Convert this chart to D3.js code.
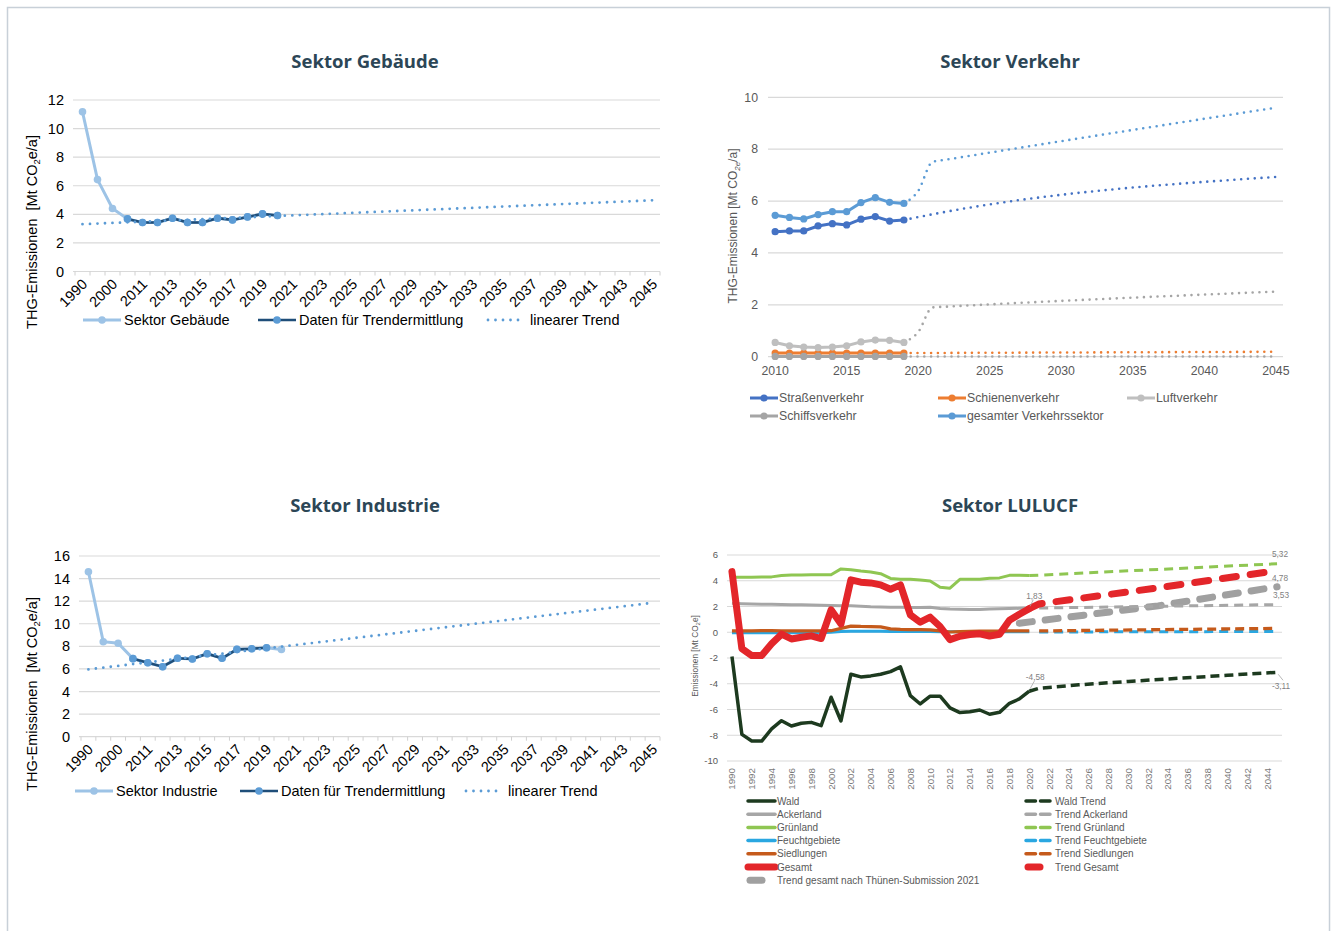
<!DOCTYPE html>
<html><head><meta charset="utf-8">
<script src="https://cdn.jsdelivr.net/npm/d3@7"></script>
<style>body{margin:0;background:#fff}svg{display:block}text{font-family:"Liberation Sans",Arial,sans-serif}</style>
</head><body><script>
// ---------------- DATA ----------------
const sectorCategories = ["1990","1995","2000","2010","2011","2012","2013","2014","2015","2016","2017","2018","2019","2020","2021","2022","2023","2024","2025","2026","2027","2028","2029","2030","2031","2032","2033","2034","2035","2036","2037","2038","2039","2040","2041","2042","2043","2044","2045"];
const sectorTickLabels = ["1990","2000","2011","2013","2015","2017","2019","2021","2023","2025","2027","2029","2031","2033","2035","2037","2039","2041","2043","2045"];

const gebYears = ["1990","1995","2000","2010","2011","2012","2013","2014","2015","2016","2017","2018","2019","2020"];
const gebSektor = [11.17,6.43,4.41,3.68,3.43,3.43,3.73,3.43,3.43,3.73,3.61,3.82,4.03,3.92];
const gebDatenYears = ["2010","2011","2012","2013","2014","2015","2016","2017","2018","2019","2020"];
const gebDaten = [3.68,3.43,3.43,3.73,3.43,3.43,3.73,3.61,3.82,4.03,3.92];
const gebTrendYears = ["1990","2045"];
const gebTrend = [3.31,4.98];
const gebYTicks = [0,2,4,6,8,10,12];

const indYears = ["1990","1995","2000","2010","2011","2012","2013","2014","2015","2016","2017","2018","2019","2020"];
const indSektor = [14.61,8.41,8.27,6.91,6.55,6.20,6.94,6.88,7.35,6.94,7.73,7.79,7.88,7.73];
const indDatenYears = ["2010","2011","2012","2013","2014","2015","2016","2017","2018","2019"];
const indDaten = [6.91,6.55,6.20,6.94,6.88,7.35,6.94,7.73,7.79,7.88];
const indTrendYears = ["1990","2045"];
const indTrend = [5.96,11.85];
const indYTicks = [0,2,4,6,8,10,12,14,16];

const verkehrYears = [2010,2011,2012,2013,2014,2015,2016,2017,2018,2019,2020,2021,2022,2023,2024,2025,2026,2027,2028,2029,2030,2031,2032,2033,2034,2035,2036,2037,2038,2039,2040,2041,2042,2043,2044,2045];
const verkehrHistYears = [2010,2011,2012,2013,2014,2015,2016,2017,2018,2019];
const strassen = [4.82,4.85,4.85,5.04,5.13,5.08,5.30,5.40,5.23,5.27];
const schiene  = [0.14,0.14,0.14,0.14,0.14,0.14,0.14,0.14,0.14,0.14];
const luft     = [0.55,0.42,0.37,0.35,0.37,0.42,0.57,0.64,0.63,0.55];
const schiff   = [0.01,0.01,0.01,0.01,0.01,0.01,0.01,0.01,0.01,0.01];
const verkehrGesamt = [5.45,5.37,5.31,5.48,5.59,5.59,5.94,6.13,5.95,5.91];
const strassenTrendYears = [2019,2021,2045];      const strassenTrend = [5.27,5.49,6.93];
const schieneTrendYears = [2019,2045];             const schieneTrend = [0.14,0.19];
const luftTrendYears = [2019,2020,2021,2022,2045]; const luftTrend = [0.55,0.95,1.90,1.93,2.51];
const schiffTrendYears = [2019,2045];              const schiffTrend = [0.01,0.01];
const gesamtTrendYears = [2019,2020,2021,2022,2045]; const gesamtTrend = [5.91,6.39,7.51,7.60,9.60];
const verkehrYTicks = [0,2,4,6,8,10];
const verkehrXTicks = [2010,2015,2020,2025,2030,2035,2040,2045];

const lulucfYears = [1990,1991,1992,1993,1994,1995,1996,1997,1998,1999,2000,2001,2002,2003,2004,2005,2006,2007,2008,2009,2010,2011,2012,2013,2014,2015,2016,2017,2018,2019,2020,2021,2022,2023,2024,2025,2026,2027,2028,2029,2030,2031,2032,2033,2034,2035,2036,2037,2038,2039,2040,2041,2042,2043,2044,2045];
const lulucfHistYears = [1990,1991,1992,1993,1994,1995,1996,1997,1998,1999,2000,2001,2002,2003,2004,2005,2006,2007,2008,2009,2010,2011,2012,2013,2014,2015,2016,2017,2018,2019,2020];
const wald = [-1.89,-7.93,-8.45,-8.45,-7.51,-6.87,-7.28,-7.07,-7.0,-7.25,-5.05,-6.89,-3.26,-3.47,-3.39,-3.26,-3.06,-2.69,-4.92,-5.57,-4.97,-4.97,-5.88,-6.24,-6.17,-6.04,-6.37,-6.22,-5.52,-5.18,-4.58];
const ackerland = [2.25,2.22,2.2,2.18,2.17,2.15,2.14,2.13,2.12,2.1,2.08,2.06,2.05,2.02,1.98,1.97,1.95,1.94,1.93,1.93,1.95,1.85,1.8,1.78,1.76,1.76,1.8,1.82,1.84,1.86,1.88];
const gruenland = [4.27,4.27,4.27,4.3,4.3,4.4,4.45,4.45,4.47,4.47,4.47,4.92,4.85,4.75,4.68,4.55,4.18,4.12,4.12,4.06,3.98,3.5,3.42,4.11,4.12,4.12,4.19,4.22,4.42,4.42,4.4];
const feuchtgebiete = [-0.03,-0.03,-0.03,-0.03,-0.03,-0.03,-0.03,-0.03,-0.03,-0.03,0.0,0.06,0.08,0.08,0.08,0.08,0.06,0.05,0.05,0.05,0.05,0.04,0.03,0.03,0.03,0.03,0.03,0.03,0.03,0.03,0.03];
const siedlungen = [0.1,0.1,0.1,0.12,0.12,0.1,0.1,0.1,0.1,0.1,0.12,0.3,0.48,0.45,0.44,0.42,0.26,0.22,0.2,0.2,0.18,0.1,0.02,0.05,0.07,0.08,0.08,0.09,0.1,0.1,0.1];
const lulucfGesamt = [4.71,-1.27,-1.81,-1.81,-0.9,-0.15,-0.52,-0.39,-0.28,-0.49,1.74,0.65,4.07,3.89,3.83,3.68,3.34,3.68,1.35,0.78,1.17,0.44,-0.57,-0.31,-0.18,-0.12,-0.29,-0.16,0.93,1.39,1.83];
const waldTrendYears = [2020,2021,2025,2030,2035,2040,2045]; const waldTrend = [-4.58,-4.35,-4.08,-3.82,-3.58,-3.34,-3.11];
const ackerTrendYears = [2021,2045];   const ackerTrend = [1.88,2.15];
const gruenTrendYears = [2020,2045];   const gruenTrend = [4.4,5.32];
const feuchtTrendYears = [2021,2045];  const feuchtTrend = [0.02,0.06];
const siedlTrendYears = [2021,2045];   const siedlTrend = [0.1,0.3];
const gesTrendYears = [2020,2021,2033,2045]; const gesTrend = [1.83,2.2,3.45,4.78];
const thuenenYears = [2019,2033,2045]; const thuenenTrend = [0.7,2.05,3.53];
const lulucfYTicks = [-10,-8,-6,-4,-2,0,2,4,6];
const lulucfXTicks = [1990,1992,1994,1996,1998,2000,2002,2004,2006,2008,2010,2012,2014,2016,2018,2020,2022,2024,2026,2028,2030,2032,2034,2036,2038,2040,2042,2044];
const lulucfValueLabels = [
  {year:2020, v:1.83, t:"1,83"},
  {year:2020, v:-4.58, t:"-4,58"},
  {year:2045, v:5.32, t:"5,32"},
  {year:2045, v:4.78, t:"4,78"},
  {year:2045, v:3.53, t:"3,53"},
  {year:2045, v:-3.11, t:"-3,11"}
];

// ---------------- DRAW ----------------
const svg = d3.select("body").append("svg").attr("width",1333).attr("height",931);
svg.append("rect").attr("x",7.5).attr("y",7.5).attr("width",1322).attr("height",940)
  .attr("fill","none").attr("stroke","#c8d0d8").attr("stroke-width",1.5);

function title(x,y,t){
  svg.append("text").attr("x",x).attr("y",y).attr("text-anchor","middle")
    .style("font-family","'Open Sans',sans-serif").attr("font-weight",700).attr("font-size",18.5)
    .attr("fill","#2c4656").text(t);
}
const zip = (xs,vs)=>xs.map((c,i)=>({c,v:vs[i]}));
const FS = 14.5;

function catChart(o){
  const x = d3.scaleBand().domain(sectorCategories).range([o.x0,o.x1]);
  const cx = c => x(c)+x.bandwidth()/2;
  const y = d3.scaleLinear().domain([0,o.ymax]).range([o.y0,o.y1]);
  const g = svg.append("g");
  g.selectAll(null).data(o.yticks).join("line")
    .attr("x1",o.x0-2).attr("x2",o.x1).attr("y1",d=>y(d)).attr("y2",d=>y(d))
    .attr("stroke","#d9d9d9").attr("stroke-width",1.2);
  g.selectAll(null).data(sectorCategories.map(c=>x(c)).concat([o.x1])).join("line")
    .attr("x1",d=>d).attr("x2",d=>d).attr("y1",o.y0).attr("y2",o.y0+4)
    .attr("stroke","#d0d0d0").attr("stroke-width",1);
  g.selectAll(null).data(o.yticks).join("text")
    .attr("x",o.x0-11).attr("y",d=>y(d)).attr("dy","0.35em").attr("text-anchor","end")
    .attr("font-size",FS).attr("fill","#000").text(d=>d);
  g.selectAll(null).data(sectorTickLabels).join("text")
    .attr("transform",d=>`translate(${cx(d)+2},${o.y0+10}) rotate(-45)`)
    .attr("dy","0.35em").attr("text-anchor","end").attr("font-size",FS).attr("fill","#000").text(d=>d);
  const yt = g.append("text").attr("transform",`translate(${o.ytx},${o.yty}) rotate(-90)`)
    .attr("text-anchor","middle").attr("font-size",FS).attr("fill","#000").style("white-space","pre");
  yt.append("tspan").text("THG-Emissionen  [Mt CO");
  yt.append("tspan").attr("font-size",9.5).attr("dy",3).text("2");
  yt.append("tspan").attr("dy",-3).text("e/a]");
  const line = d3.line().x(d=>cx(d.c)).y(d=>y(d.v));
  const s1 = zip(o.sYears,o.sVals), s2 = zip(o.dYears,o.dVals), tr = zip(o.tYears,o.tVals);
  g.append("path").attr("d",line(s1)).attr("fill","none").attr("stroke","#9dc3e6").attr("stroke-width",3);
  g.selectAll(null).data(s1).join("circle").attr("cx",d=>cx(d.c)).attr("cy",d=>y(d.v)).attr("r",3.8).attr("fill","#9dc3e6");
  g.append("path").attr("d",line(s2)).attr("fill","none").attr("stroke","#1f4e79").attr("stroke-width",2.6);
  g.selectAll(null).data(s2).join("circle").attr("cx",d=>cx(d.c)).attr("cy",d=>y(d.v)).attr("r",3.8).attr("fill","#5b9bd5");
  g.append("path").attr("d",line(tr)).attr("fill","none").attr("stroke","#5b9bd5").attr("stroke-width",2.8)
    .attr("stroke-dasharray","0 7.5").attr("stroke-linecap","round");
  const ly = o.ly, L = o.leg;
  g.append("line").attr("x1",L[0]).attr("x2",L[0]+38).attr("y1",ly).attr("y2",ly).attr("stroke","#9dc3e6").attr("stroke-width",3);
  g.append("circle").attr("cx",L[0]+19).attr("cy",ly).attr("r",3.8).attr("fill","#9dc3e6");
  g.append("text").attr("x",L[0]+41).attr("y",ly).attr("dy","0.35em").attr("font-size",FS).text(o.sName);
  g.append("line").attr("x1",L[1]).attr("x2",L[1]+38).attr("y1",ly).attr("y2",ly).attr("stroke","#1f4e79").attr("stroke-width",2.6);
  g.append("circle").attr("cx",L[1]+19).attr("cy",ly).attr("r",3.8).attr("fill","#5b9bd5");
  g.append("text").attr("x",L[1]+41).attr("y",ly).attr("dy","0.35em").attr("font-size",FS).text("Daten für Trendermittlung");
  g.append("line").attr("x1",L[2]).attr("x2",L[2]+36).attr("y1",ly).attr("y2",ly).attr("stroke","#5b9bd5").attr("stroke-width",2.8)
    .attr("stroke-dasharray","0 7.5").attr("stroke-linecap","round");
  g.append("text").attr("x",L[2]+42).attr("y",ly).attr("dy","0.35em").attr("font-size",FS).text("linearer Trend");
}

title(365,68,"Sektor Gebäude");
catChart({x0:75,x1:660,y0:271.5,y1:100,ymax:12,yticks:gebYTicks,ytx:37,yty:232,
  sYears:gebYears,sVals:gebSektor,dYears:gebDatenYears,dVals:gebDaten,tYears:gebTrendYears,tVals:gebTrend,
  sName:"Sektor Gebäude",ly:320,leg:[83,258,488]});

title(365,512,"Sektor Industrie");
catChart({x0:81,x1:660,y0:736.7,y1:556,ymax:16,yticks:indYTicks,ytx:37,yty:694,
  sYears:indYears,sVals:indSektor,dYears:indDatenYears,dVals:indDaten,tYears:indTrendYears,tVals:indTrend,
  sName:"Sektor Industrie",ly:791,leg:[75,240,466]});

// ---- Verkehr ----
(function(){
  title(1010,68,"Sektor Verkehr");
  const x = d3.scalePoint().domain(verkehrYears).range([768,1283]).padding(0.5);
  const y = d3.scaleLinear().domain([0,10]).range([356.7,97.3]);
  const g = svg.append("g");
  const grey = "#595959";
  g.selectAll(null).data(verkehrYTicks).join("line").attr("x1",768).attr("x2",1283)
    .attr("y1",d=>y(d)).attr("y2",d=>y(d)).attr("stroke","#d9d9d9").attr("stroke-width",1.2);
  g.selectAll(null).data(verkehrYTicks).join("text").attr("x",758).attr("y",d=>y(d)).attr("dy","0.35em")
    .attr("text-anchor","end").attr("font-size",12.3).attr("fill",grey).text(d=>d);
  g.selectAll(null).data(verkehrXTicks).join("text").attr("x",d=>x(d)).attr("y",375)
    .attr("text-anchor","middle").attr("font-size",12.3).attr("fill",grey).text(d=>d);
  const yt = g.append("text").attr("transform","translate(737,226) rotate(-90)").attr("text-anchor","middle")
    .attr("font-size",12).attr("fill",grey);
  yt.append("tspan").text("THG-Emissionen [Mt CO");
  yt.append("tspan").attr("font-size",8).attr("dy",3).attr("font-style","italic").text("2e");
  yt.append("tspan").attr("dy",-3).text("/a]");
  const line = d3.line().x(d=>x(d.c)).y(d=>y(d.v));
  const tline = d3.line().x(d=>x(d.c)).y(d=>y(d.v)).curve(d3.curveMonotoneX);
  const series = [
    {n:"Straßenverkehr",v:strassen,col:"#4472c4",ty:strassenTrendYears,tv:strassenTrend,tc:"#4472c4"},
    {n:"Schienenverkehr",v:schiene,col:"#ed7d31",ty:schieneTrendYears,tv:schieneTrend,tc:"#ed7d31"},
    {n:"Luftverkehr",v:luft,col:"#bfbfbf",ty:luftTrendYears,tv:luftTrend,tc:"#a5a5a5"},
    {n:"Schiffsverkehr",v:schiff,col:"#a5a5a5",ty:schiffTrendYears,tv:schiffTrend,tc:"#a5a5a5"},
    {n:"gesamter Verkehrssektor",v:verkehrGesamt,col:"#5b9bd5",ty:gesamtTrendYears,tv:gesamtTrend,tc:"#5b9bd5"}
  ];
  series.forEach(s=>{
    g.append("path").attr("d",tline(zip(s.ty,s.tv))).attr("fill","none").attr("stroke",s.tc).attr("stroke-width",2.6)
      .attr("stroke-dasharray","0 6.8").attr("stroke-linecap","round");
  });
  series.forEach(s=>{
    const d = zip(verkehrHistYears,s.v);
    g.append("path").attr("d",line(d)).attr("fill","none").attr("stroke",s.col).attr("stroke-width",3);
    g.selectAll(null).data(d).join("circle").attr("cx",p=>x(p.c)).attr("cy",p=>y(p.v)).attr("r",3.6).attr("fill",s.col);
  });
  const pos = [[750,398],[938,398],[1127,398],[750,416],[938,416]];
  series.forEach((s,i)=>{
    const [lx,ly] = pos[i];
    g.append("line").attr("x1",lx).attr("x2",lx+28).attr("y1",ly).attr("y2",ly).attr("stroke",s.col).attr("stroke-width",3);
    g.append("circle").attr("cx",lx+14).attr("cy",ly).attr("r",3.6).attr("fill",s.col);
    g.append("text").attr("x",lx+29).attr("y",ly).attr("dy","0.35em").attr("font-size",12.3).attr("fill",grey).text(s.n);
  });
})();

// ---- LULUCF ----
(function(){
  title(1010,512,"Sektor LULUCF");
  const x = d3.scalePoint().domain(lulucfYears).range([727,1282]).padding(0.5);
  const y = d3.scaleLinear().domain([-10,6]).range([761,555]);
  const g = svg.append("g");
  const grey = "#595959";
  g.selectAll(null).data(lulucfYTicks).join("line").attr("x1",727).attr("x2",1282)
    .attr("y1",d=>y(d)).attr("y2",d=>y(d)).attr("stroke","#d9d9d9").attr("stroke-width",1.2);
  g.selectAll(null).data(lulucfYTicks).join("text").attr("x",718).attr("y",d=>y(d)).attr("dy","0.35em")
    .attr("text-anchor","end").attr("font-size",9.5).attr("fill",grey).text(d=>d);
  g.selectAll(null).data(lulucfXTicks).join("text")
    .attr("transform",d=>`translate(${x(d)},768) rotate(-90)`).attr("dy","0.35em")
    .attr("text-anchor","end").attr("font-size",9.8).attr("fill","#7a7a7a").text(d=>d);
  const yt = g.append("text").attr("transform","translate(698,656) rotate(-90)").attr("text-anchor","middle")
    .attr("font-size",8.3).attr("fill",grey);
  yt.append("tspan").text("Emissionen [Mt CO");
  yt.append("tspan").attr("font-size",6).attr("dy",2).text("2");
  yt.append("tspan").attr("dy",-2).text("e]");
  const line = d3.line().x(d=>x(d.c)).y(d=>y(d.v));
  const C = {wald:"#1d3a1f",acker:"#a6a6a6",gruen:"#8fc652",feucht:"#2aa7e1",siedl:"#c55a1b",ges:"#e3262a",th:"#a0a0a0"};
  const hist = [
    {v:wald,c:C.wald,w:3.5},{v:ackerland,c:C.acker,w:3},{v:gruenland,c:C.gruen,w:3},
    {v:feuchtgebiete,c:C.feucht,w:3},{v:siedlungen,c:C.siedl,w:3.2}
  ];
  hist.forEach(s=>{
    g.append("path").attr("d",line(zip(lulucfHistYears,s.v))).attr("fill","none").attr("stroke",s.c)
      .attr("stroke-width",s.w).attr("stroke-linejoin","round");
  });
  g.append("path").attr("d",line(zip(lulucfHistYears,lulucfGesamt))).attr("fill","none").attr("stroke",C.ges)
    .attr("stroke-width",7).attr("stroke-linejoin","round").attr("stroke-linecap","round");
  const trends = [
    {ys:thuenenYears,v:thuenenTrend,c:C.th,w:7,da:"13 13",cap:"round"},
    {ys:ackerTrendYears,v:ackerTrend,c:C.acker,w:3,da:"9 6",cap:"butt"},
    {ys:gruenTrendYears,v:gruenTrend,c:C.gruen,w:3,da:"9 6",cap:"butt"},
    {ys:feuchtTrendYears,v:feuchtTrend,c:C.feucht,w:3,da:"9 6",cap:"butt"},
    {ys:siedlTrendYears,v:siedlTrend,c:C.siedl,w:3.3,da:"9 5",cap:"butt"},
    {ys:waldTrendYears,v:waldTrend,c:C.wald,w:3.5,da:"9 5",cap:"butt"},
    {ys:gesTrendYears,v:gesTrend,c:C.ges,w:7,da:"14 14",cap:"round"}
  ];
  trends.forEach(s=>{
    g.append("path").attr("d",line(zip(s.ys,s.v))).attr("fill","none").attr("stroke",s.c)
      .attr("stroke-width",s.w).attr("stroke-dasharray",s.da).attr("stroke-linecap",s.cap);
  });
  const off = {"1,83":[5,-13,2,-6],"-4,58":[6,-14,2,-6],"5,32":[3,-10,0,0],"4,78":[3,7,0,0],"3,53":[4,8,0,0],"-3,11":[4,14,3,5]};
  lulucfValueLabels.forEach(L=>{
    const px = x(L.year), py = y(L.v), o = off[L.t];
    if(o[2]||o[3]){
      g.append("line").attr("x1",px+o[2]*0.4).attr("y1",py+o[3]*0.4).attr("x2",px+o[0]+ (L.t==="-3,11"?2:-1)).attr("y2",py+o[1]+(L.t==="-3,11"?-6:4))
        .attr("stroke","#a6a6a6").attr("stroke-width",0.8);
    }
    g.append("text").attr("x",px+o[0]).attr("y",py+o[1]).attr("dy","0.35em").attr("text-anchor","middle")
      .attr("font-size",8.3).attr("fill","#7f7f7f").text(L.t);
  });
  const lf = 10;
  const left = [
    {t:"Wald",c:C.wald,w:3.5},{t:"Ackerland",c:C.acker,w:3.5},{t:"Grünland",c:C.gruen,w:3.5},
    {t:"Feuchtgebiete",c:C.feucht,w:3.5},{t:"Siedlungen",c:C.siedl,w:3.5},{t:"Gesamt",c:C.ges,w:7}
  ];
  const rowY = [801,814.2,827.4,840.6,853.8,867,880.2];
  left.forEach((e,i)=>{
    g.append("line").attr("x1",748).attr("x2",775).attr("y1",rowY[i]).attr("y2",rowY[i]).attr("stroke",e.c)
      .attr("stroke-width",e.w).attr("stroke-linecap","round");
    g.append("text").attr("x",777).attr("y",rowY[i]).attr("dy","0.35em").attr("font-size",lf).attr("fill",grey).text(e.t);
  });
  g.append("line").attr("x1",750).attr("x2",762).attr("y1",rowY[6]).attr("y2",rowY[6]).attr("stroke",C.th)
    .attr("stroke-width",7).attr("stroke-linecap","round");
  g.append("text").attr("x",777).attr("y",rowY[6]).attr("dy","0.35em").attr("font-size",lf).attr("fill",grey).text("Trend gesamt nach Thünen-Submission 2021");
  const right = [
    {t:"Wald Trend",c:C.wald},{t:"Trend Ackerland",c:C.acker},{t:"Trend Grünland",c:C.gruen},
    {t:"Trend Feuchtgebiete",c:C.feucht},{t:"Trend Siedlungen",c:C.siedl}
  ];
  right.forEach((e,i)=>{
    g.append("line").attr("x1",1026).attr("x2",1052).attr("y1",rowY[i]).attr("y2",rowY[i]).attr("stroke",e.c)
      .attr("stroke-width",3.5).attr("stroke-dasharray","9.5 5").attr("stroke-linecap","round");
    g.append("text").attr("x",1055).attr("y",rowY[i]).attr("dy","0.35em").attr("font-size",lf).attr("fill",grey).text(e.t);
  });
  g.append("line").attr("x1",1028).attr("x2",1040).attr("y1",rowY[5]).attr("y2",rowY[5]).attr("stroke",C.ges)
    .attr("stroke-width",7).attr("stroke-linecap","round");
  g.append("text").attr("x",1055).attr("y",rowY[5]).attr("dy","0.35em").attr("font-size",lf).attr("fill",grey).text("Trend Gesamt");
})();
</script></body></html>
